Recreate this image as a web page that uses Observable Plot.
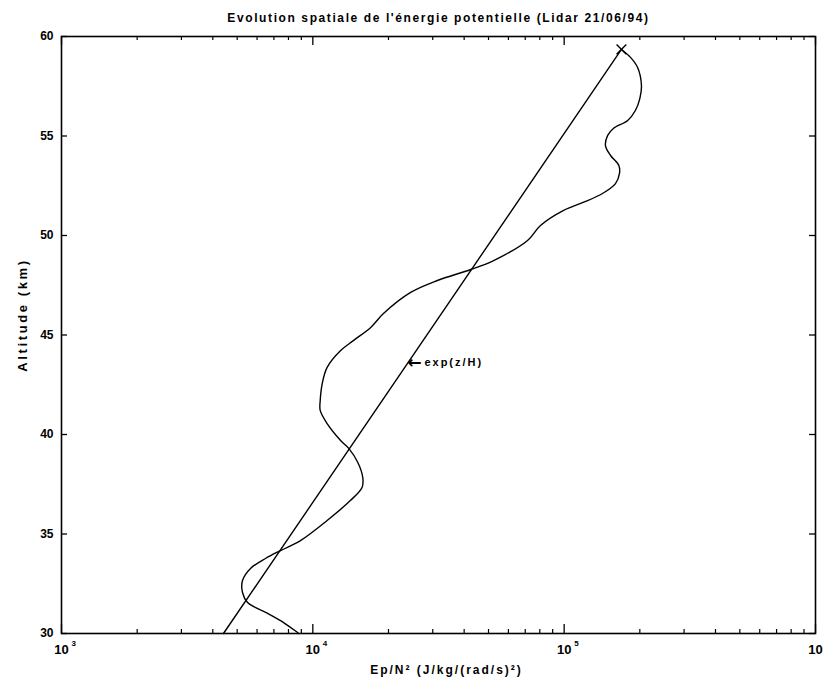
<!DOCTYPE html>
<html>
<head>
<meta charset="utf-8">
<script src="https://cdn.jsdelivr.net/npm/d3@7"></script>
<script src="https://cdn.jsdelivr.net/npm/@observablehq/plot@0.6"></script>
<style>
  body { margin: 0; background: #fff; }
  svg { font-family: "Liberation Sans", Arial, sans-serif; }
  .ttl text { letter-spacing: 1.6px; }
  .xlab text { letter-spacing: 2px; }
  .ylab text { letter-spacing: 2.6px; }
  .ann text { letter-spacing: 2px; }
</style>
</head>
<body>
<div id="chart"></div>
<script>
// ---- Data ----
const titleText = "Evolution spatiale de l'énergie potentielle (Lidar 21/06/94)";
const xLabel = "Ep/N² (J/kg/(rad/s)²)";
const yLabel = "Altitude (km)";

// Measured potential energy profile (Ep/N²) vs altitude (km)
const epAlt = [59.35, 58.94, 58.44, 57.54, 56.88, 56.28, 55.78, 55.38, 55.03, 54.52,
  54.02, 53.52, 53.12, 52.61, 52.11, 51.66, 51.26, 50.50, 49.75, 48.74,
  48.29, 47.74, 47.14, 46.08, 45.38, 44.72, 44.22, 43.37, 42.56, 41.71,
  41.21, 40.55, 39.70, 39.30, 38.59, 37.84, 37.34, 36.68, 35.68, 34.67,
  34.17, 33.77, 33.27, 32.66, 32.06, 31.56, 31.01, 30.55, 30.05, 30.0];
const epVal = [1.69e5, 1.84e5, 1.96e5, 2.03e5, 2.00e5, 1.92e5, 1.79e5, 1.57e5, 1.49e5, 1.46e5,
  1.53e5, 1.65e5, 1.66e5, 1.60e5, 1.42e5, 1.19e5, 9.95e4, 8.05e4, 7.15e4, 5.24e4,
  4.25e4, 3.13e4, 2.45e4, 1.91e4, 1.70e4, 1.45e4, 1.29e4, 1.14e4, 1.09e4, 1.07e4,
  1.07e4, 1.14e4, 1.29e4, 1.39e4, 1.51e4, 1.58e4, 1.57e4, 1.41e4, 1.14e4, 8.93e3,
  7.44e3, 6.48e3, 5.65e3, 5.25e3, 5.25e3, 5.50e3, 6.61e3, 7.65e3, 8.69e3, 8.8e3];

// Reference exponential law exp(z/H) (straight on log axis): endpoints
const expAlt = [30.0, 59.35];
const expVal = [4.41e3, 1.69e5];

// Annotation
const annotAlt = 43.62;
const annotVal = 2.40e4;
const annotArrow = "←";
const annotText = "exp(z/H)";

// Ticks
const xMajor = [1e3, 1e4, 1e5, 1e6];
const xMajorBase = ["10", "10", "10", "10"];
const xMajorExp = ["3", "4", "5", ""];
const xMinor = [2e3,3e3,4e3,5e3,6e3,7e3,8e3,9e3, 2e4,3e4,4e4,5e4,6e4,7e4,8e4,9e4, 2e5,3e5,4e5,5e5,6e5,7e5,8e5,9e5];
const yTicks = [30, 35, 40, 45, 50, 55, 60];

// ---- Build tables ----
const ep = epAlt.map((a, i) => ({alt: a, val: epVal[i]}));
const ex = expAlt.map((a, i) => ({alt: a, val: expVal[i]}));
const xMaj = xMajor.map((v, i) => ({v, base: xMajorBase[i], exp: xMajorExp[i]}));
const annot = [{val: annotVal, alt: annotAlt}];

const W = 825, H = 682, mL = 61, mR = 10, mT = 36, mB = 49;
const fh = H - mT - mB, fw = W - mL - mR;
const bold = {fontWeight: "bold", fill: "black"};

const chart = Plot.plot({
  width: W, height: H,
  marginLeft: mL, marginRight: mR, marginTop: mT, marginBottom: mB,
  x: {type: "log", domain: [1e3, 1e6], axis: null},
  y: {domain: [30, 60], axis: null},
  style: {fontFamily: "Liberation Sans, Arial, sans-serif", background: "white", color: "black"},
  marks: [
    // ticks (inward, MATLAB style)
    Plot.tickX(xMajor, {insetTop: fh - 9, stroke: "black", strokeWidth: 1.3}),
    Plot.tickX(xMinor, {insetTop: fh - 4, stroke: "black", strokeWidth: 1.2}),
    Plot.tickX(xMajor, {insetBottom: fh - 9, stroke: "black", strokeWidth: 1.3}),
    Plot.tickX(xMinor, {insetBottom: fh - 4, stroke: "black", strokeWidth: 1.2}),
    Plot.tickY(yTicks, {insetRight: fw - 6, stroke: "black", strokeWidth: 1.3}),
    Plot.tickY(yTicks, {insetLeft: fw - 6, stroke: "black", strokeWidth: 1.3}),
    Plot.frame({stroke: "black", strokeWidth: 1.6}),
    // curves
    Plot.line(ex, {x: "val", y: "alt", stroke: "black", strokeWidth: 1.4}),
    Plot.line(ep, {x: "val", y: "alt", stroke: "black", strokeWidth: 1.4, curve: "catmull-rom"}),
    Plot.dot([ep[0]], {x: "val", y: "alt", symbol: "times", r: 4.5, stroke: "black", strokeWidth: 1.4}),
    // annotation
    Plot.text(annot, {x: "val", y: "alt", text: () => annotArrow, textAnchor: "start", dx: -1,
      fontSize: 17, fontFamily: "DejaVu Sans", ...bold}),
    Plot.text(annot, {x: "val", y: "alt", text: () => annotText, textAnchor: "start", dx: 16,
      fontSize: 11, className: "ann", ...bold}),
    // x tick labels
    Plot.text(xMaj, {x: "v", text: "base", frameAnchor: "bottom", dy: 20,
      textAnchor: "middle", fontSize: 13, ...bold}),
    Plot.text(xMaj, {x: "v", text: "exp", frameAnchor: "bottom", dy: 12, dx: 10,
      textAnchor: "start", fontSize: 8, ...bold}),
    // y tick labels
    Plot.text(yTicks, {y: d => d, text: d => String(d), frameAnchor: "left", dx: -8,
      textAnchor: "end", fontSize: 12, ...bold}),
    // axis labels & title
    Plot.text([xLabel], {frameAnchor: "bottom", textAnchor: "middle", dy: 40, dx: 8, fontSize: 12,
      className: "xlab", ...bold}),
    Plot.text([yLabel], {frameAnchor: "left", textAnchor: "middle", dx: -39, dy: -20, rotate: -90,
      fontSize: 13, className: "ylab", ...bold}),
    Plot.text([titleText], {frameAnchor: "top", textAnchor: "middle", dy: -23, dx: 0, fontSize: 12,
      className: "ttl", ...bold})
  ]
});
document.getElementById("chart").appendChild(chart);
</script>
</body>
</html>
